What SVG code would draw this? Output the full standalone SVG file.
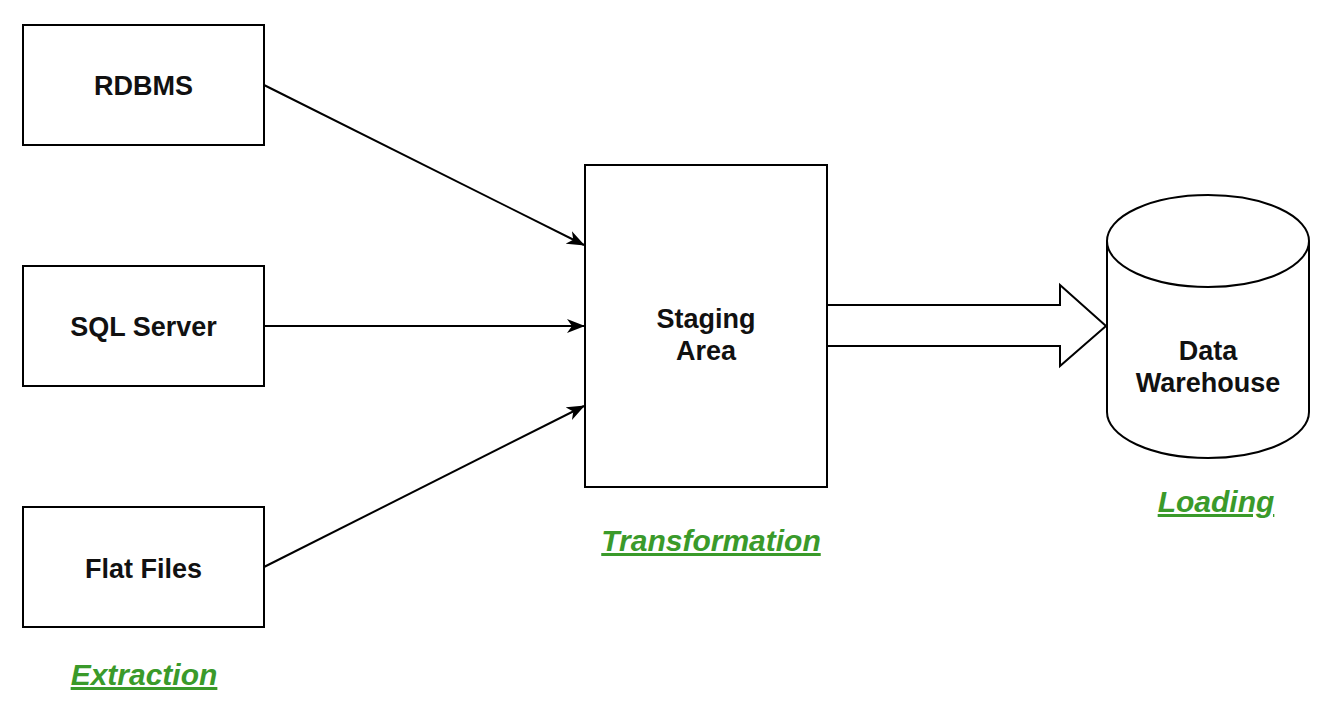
<svg xmlns="http://www.w3.org/2000/svg" width="1330" height="714" viewBox="0 0 1330 714">
<style>
.box{fill:#fff;stroke:#000;stroke-width:2}
.lbl{font-family:"Liberation Sans",Arial,sans-serif;font-weight:bold;font-size:27px;fill:#111;text-anchor:middle}
.phase{font-family:"Liberation Sans",Arial,sans-serif;font-weight:bold;font-style:italic;font-size:30px;fill:#3a9a2a;text-anchor:middle;text-decoration:underline}
.conn{stroke:#000;stroke-width:2;fill:none}
</style>
<defs>
<marker id="ah" viewBox="0 0 18 14" refX="17" refY="7" markerWidth="18" markerHeight="14" markerUnits="userSpaceOnUse" orient="auto">
<path d="M0,0 L18,7 L0,14 L5,7 Z" fill="#000"/>
</marker>
</defs>
<rect width="1330" height="714" fill="#fff"/>
<g id="connectors">
<line class="conn" x1="264" y1="85" x2="584" y2="245" marker-end="url(#ah)"/>
<line class="conn" x1="264" y1="326" x2="584" y2="326" marker-end="url(#ah)"/>
<line class="conn" x1="264" y1="567" x2="584" y2="406" marker-end="url(#ah)"/>
<path id="blockarrow" class="box" d="M827,305 L1060,305 L1060,285 L1106,326 L1060,366 L1060,346 L827,346 Z"/>
</g>
<g id="rdbms"><rect class="box" x="23" y="25" width="241" height="120"/><text class="lbl" x="143.5" y="95">RDBMS</text></g>
<g id="sqlserver"><rect class="box" x="23" y="266" width="241" height="120"/><text class="lbl" x="143.5" y="336">SQL Server</text></g>
<g id="flatfiles"><rect class="box" x="23" y="507" width="241" height="120"/><text class="lbl" x="143.5" y="578">Flat Files</text></g>
<g id="staging"><rect class="box" x="585" y="165" width="242" height="322"/><text class="lbl" x="706" y="328">Staging</text><text class="lbl" x="706" y="360">Area</text></g>
<g id="warehouse">
<path class="box" d="M1107,241 A101,46 0 0 1 1309,241 L1309,412 A101,46 0 0 1 1107,412 Z"/>
<path class="conn" d="M1107,241 A101,46 0 0 0 1309,241"/>
<text class="lbl" x="1208" y="360">Data</text><text class="lbl" x="1208" y="392">Warehouse</text>
</g>
<g id="phases">
<text class="phase" x="144" y="685">Extraction</text>
<text class="phase" x="711" y="551">Transformation</text>
<text class="phase" x="1216" y="512">Loading</text>
</g>
</svg>
